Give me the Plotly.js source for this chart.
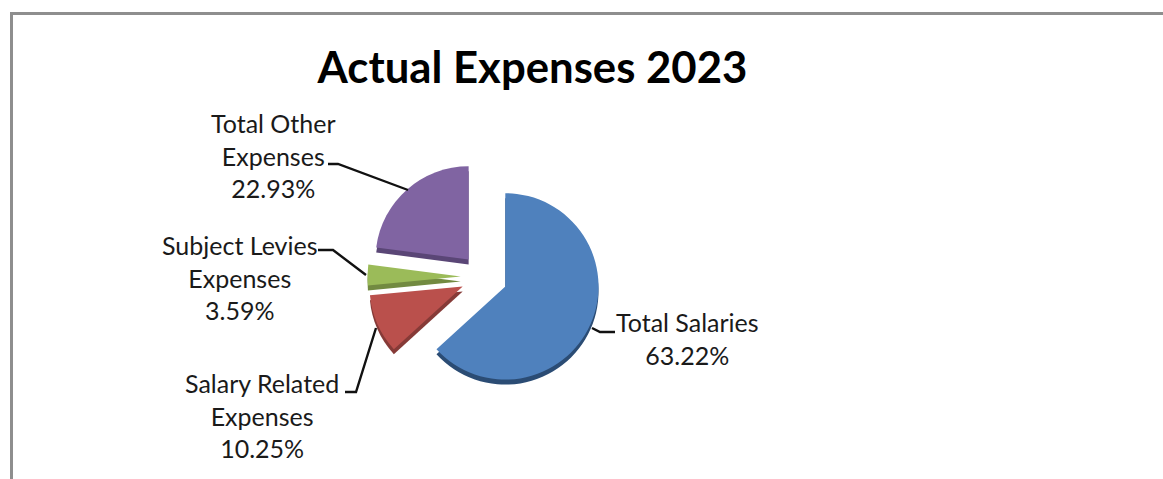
<!DOCTYPE html>
<html><head><meta charset="utf-8">
<script src="https://cdn.plot.ly/plotly-3.0.1.min.js"></script>
<style>html,body{margin:0;padding:0;background:#fff;overflow:hidden}</style>
</head><body><div id="chart" style="width:1163px;height:479px"></div>
<script>
const categories = ["Total Salaries","Salary Related Expenses","Subject Levies Expenses","Total Other Expenses"];
const values = [63.22,10.25,3.59,22.93];
const faceColors = ["#4F81BD","#BA504C","#9BBB59","#8064A2"];
const sideColors = ["#2B4C74","#863A37","#728A41","#5A4676"];
const pulls = [0.25,0.25,0.25,0.25];
const labelLines = [
  ["Total Salaries","63.22%"],
  ["Salary Related","Expenses","10.25%"],
  ["Subject Levies","Expenses","3.59%"],
  ["Total Other","Expenses","22.93%"]
];
const labelCentres = [[688,338],[262,415],[240,277],[273,155]];
const leaders = [
  [[615,332],[600,332],[592,328]],
  [[345,392],[356,392],[376,328]],
  [[318,250],[333,250],[366,275]],
  [[328,164],[338,164],[408,190]]
];
const W=1163,H=479;
const cx=484, cy=277, half=116.5, depth=5;
const px=x=>x/W, py=y=>1-y/H;
function pie(colors,dy){
  return {type:"pie",labels:categories,values:values,sort:false,direction:"clockwise",rotation:0,
    pull:pulls,textinfo:"none",hoverinfo:"label+percent",showlegend:false,
    marker:{colors:colors,line:{width:0}},
    domain:{x:[px(cx-half),px(cx+half)],y:[py(cy+dy+half),py(cy+dy-half)]}};
}
const shapes = leaders.map(l=>({type:"path",xref:"paper",yref:"paper",
  path:l.map((p,i)=>(i?"L":"M")+px(p[0])+","+py(p[1])).join(" "),
  line:{color:"#111",width:2.4}}));
shapes.push({type:"path",xref:"paper",yref:"paper",
  path:`M${px(11.5)},0 L${px(11.5)},${py(13.5)} L1,${py(13.5)}`,
  line:{color:"#8E8E8E",width:3}});
const annotations = labelLines.map((t,i)=>({xref:"paper",yref:"paper",
  x:px(labelCentres[i][0]),y:py(labelCentres[i][1]),xanchor:"center",yanchor:"middle",
  text:t.join("<br>"),showarrow:false,align:"center",
  font:{family:"Lato, Carlito, sans-serif",size:25,color:"#1a1a1a"}}));
Plotly.newPlot("chart",[pie(sideColors,depth),pie(faceColors,0)],{
  width:W,height:H,margin:{l:0,r:0,t:0,b:0},paper_bgcolor:"#fff",
  title:{text:"<b>Actual Expenses 2023</b>",x:532.5/W,xanchor:"center",y:py(68),yanchor:"middle",
    font:{family:"Lato, Carlito, sans-serif",size:43.7,color:"#000"}},
  shapes:shapes,annotations:annotations
},{displayModeBar:false,staticPlot:false});
</script></body></html>
